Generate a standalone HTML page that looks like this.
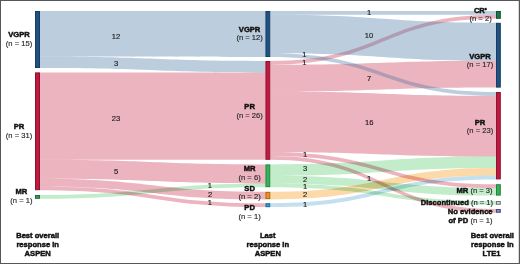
<!DOCTYPE html><html><head><meta charset="utf-8"><style>html,body{margin:0;padding:0;background:#fff}svg{display:block;will-change:transform}text{font-family:"Liberation Sans",sans-serif;font-size:7.6px;fill:#111;stroke:#111;stroke-width:0.45px}svg text{-webkit-font-smoothing:antialiased}.tx{will-change:transform}.b{font-weight:bold}.n{fill:#2b2b2b;stroke:#2b2b2b;stroke-width:0.16px}.v{fill:#1a1a1a;stroke:#1a1a1a;stroke-width:0.15px;text-anchor:middle}</style></head><body>
<svg width="520" height="264" viewBox="0 0 520 264">
<rect x="0" y="0" width="520" height="264" fill="#fff"/>
<g>
<path d="M270.3,203.2C383.15,203.2 383.15,175.6 496,175.6L496,179.4C383.15,179.4 383.15,207 270.3,207Z" fill="#c4dfee" style="mix-blend-mode:multiply"/>
<path d="M270.3,191.8C383.15,191.8 383.15,168 496,168L496,175.6C383.15,175.6 383.15,199.4 270.3,199.4Z" fill="#fcd9a8" style="mix-blend-mode:multiply"/>
<path d="M40,195C152.7,195 152.7,183.4 265.4,183.4L265.4,187.2C152.7,187.2 152.7,198.8 40,198.8Z" fill="#c2ecca" style="mix-blend-mode:multiply"/>
<path d="M270.3,164.4C383.15,164.4 383.15,156.6 496,156.6L496,168C383.15,168 383.15,175.8 270.3,175.8Z" fill="#c2ecca" style="mix-blend-mode:multiply"/>
<path d="M270.3,175.8C383.15,175.8 383.15,188 496,188L496,195.6C383.15,195.6 383.15,183.4 270.3,183.4Z" fill="#c2ecca" style="mix-blend-mode:multiply"/>
<path d="M270.3,183.4C383.15,183.4 383.15,201 496,201L496,204.8C383.15,204.8 383.15,187.2 270.3,187.2Z" fill="#c2ecca" style="mix-blend-mode:multiply"/>
<path d="M40,72.4C152.7,72.4 152.7,72.4 265.4,72.4L265.4,159.8C152.7,159.8 152.7,159.8 40,159.8Z" fill="#ecb4be" style="mix-blend-mode:multiply"/>
<path d="M40,159.8C152.7,159.8 152.7,164.4 265.4,164.4L265.4,183.4C152.7,183.4 152.7,178.8 40,178.8Z" fill="#ecb4be" style="mix-blend-mode:multiply"/>
<path d="M40,178.8C152.7,178.8 152.7,191.8 265.4,191.8L265.4,199.4C152.7,199.4 152.7,186.4 40,186.4Z" fill="#ecb4be" style="mix-blend-mode:multiply"/>
<path d="M40,186.4C152.7,186.4 152.7,203.2 265.4,203.2L265.4,207C152.7,207 152.7,190.2 40,190.2Z" fill="#ecb4be" style="mix-blend-mode:multiply"/>
<path d="M270.3,61C383.15,61 383.15,14.8 496,14.8L496,18.6C383.15,18.6 383.15,64.8 270.3,64.8Z" fill="#ecb4be" style="mix-blend-mode:multiply"/>
<path d="M270.3,64.8C383.15,64.8 383.15,60.8 496,60.8L496,87.4C383.15,87.4 383.15,91.4 270.3,91.4Z" fill="#ecb4be" style="mix-blend-mode:multiply"/>
<path d="M270.3,91.4C383.15,91.4 383.15,95.8 496,95.8L496,156.6C383.15,156.6 383.15,152.2 270.3,152.2Z" fill="#ecb4be" style="mix-blend-mode:multiply"/>
<path d="M270.3,152.2C383.15,152.2 383.15,184.2 496,184.2L496,188C383.15,188 383.15,156 270.3,156Z" fill="#ecb4be" style="mix-blend-mode:multiply"/>
<path d="M270.3,156C383.15,156 383.15,209 496,209L496,212.8C383.15,212.8 383.15,159.8 270.3,159.8Z" fill="#ecb4be" style="mix-blend-mode:multiply"/>
<path d="M40,11C152.7,11 152.7,11 265.4,11L265.4,57C152.7,57 152.7,56.6 40,56.6Z" fill="#4574a1" fill-opacity="0.36"/>
<path d="M40,56.6C152.7,56.6 152.7,61 265.4,61L265.4,72.4C152.7,72.4 152.7,68 40,68Z" fill="#4574a1" fill-opacity="0.36"/>
<path d="M270.3,11C383.15,11 383.15,11 496,11L496,14.8C383.15,14.8 383.15,14.8 270.3,14.8Z" fill="#4574a1" fill-opacity="0.36"/>
<path d="M270.3,14.8C383.15,14.8 383.15,22.8 496,22.8L496,60.8C383.15,60.8 383.15,53.2 270.3,53.2Z" fill="#4574a1" fill-opacity="0.36"/>
<path d="M270.3,53.2C383.15,53.2 383.15,92 496,92L496,95.8C383.15,95.8 383.15,57 270.3,57Z" fill="#4574a1" fill-opacity="0.36"/>
</g>
<g>
<rect x="35.5" y="11.5" width="4" height="56" fill="#1f5282" stroke="#163c60" stroke-width="1"/>
<rect x="35.5" y="72.9" width="4" height="116.8" fill="#c0183e" stroke="#8e1230" stroke-width="1"/>
<rect x="35.5" y="195.5" width="4" height="2.8" fill="#3a9a5c" stroke="#1f6a3a" stroke-width="1"/>
<rect x="265.9" y="11.5" width="3.9" height="45" fill="#1f5282" stroke="#163c60" stroke-width="1"/>
<rect x="265.9" y="61.5" width="3.9" height="97.8" fill="#c0183e" stroke="#8e1230" stroke-width="1"/>
<rect x="265.9" y="164.9" width="3.9" height="21.8" fill="#34b258" stroke="#23823e" stroke-width="1"/>
<rect x="265.9" y="192.3" width="3.9" height="6.4" fill="#f49018" stroke="#a86010" stroke-width="1"/>
<rect x="265.9" y="203.7" width="3.9" height="3" fill="#2e98d4" stroke="#1a6aa0" stroke-width="1"/>
<rect x="496.5" y="11.5" width="3.8" height="6.8" fill="#177a4c" stroke="#0e5034" stroke-width="1"/>
<rect x="496.5" y="23.3" width="3.8" height="63.8" fill="#1f5282" stroke="#163c60" stroke-width="1"/>
<rect x="496.5" y="92.5" width="3.8" height="86.4" fill="#c0183e" stroke="#8e1230" stroke-width="1"/>
<rect x="496.5" y="184.7" width="3.8" height="10.4" fill="#34b258" stroke="#23823e" stroke-width="1"/>
<rect x="496.5" y="201.5" width="3.8" height="2.8" fill="#d4dada" stroke="#6a7272" stroke-width="1"/>
<rect x="496.5" y="209.5" width="3.8" height="2.8" fill="#8a8acc" stroke="#4a4a8a" stroke-width="1"/>
</g>
<g>
<text x="19" y="37.4" text-anchor="middle" class="b">VGPR</text><text x="19" y="45.9" text-anchor="middle" class="n">(n = 15)</text>
<text x="19" y="129.2" text-anchor="middle" class="b">PR</text><text x="19" y="137.7" text-anchor="middle" class="n">(n = 31)</text>
<text x="21.4" y="194.4" text-anchor="middle" class="b">MR</text><text x="21.4" y="202.9" text-anchor="middle" class="n">(n = 1)</text>
<text x="249.6" y="31.8" text-anchor="middle" class="b">VGPR</text><text x="249.6" y="40.3" text-anchor="middle" class="n">(n = 12)</text>
<text x="249.6" y="109" text-anchor="middle" class="b">PR</text><text x="249.6" y="117.5" text-anchor="middle" class="n">(n = 26)</text>
<text x="249.6" y="171.2" text-anchor="middle" class="b">MR</text><text x="249.6" y="179.7" text-anchor="middle" class="n">(n = 6)</text>
<text x="249.6" y="190.6" text-anchor="middle" class="b">SD</text><text x="249.6" y="199.1" text-anchor="middle" class="n">(n = 2)</text>
<text x="249.6" y="210.3" text-anchor="middle" class="b">PD</text><text x="249.6" y="218.8" text-anchor="middle" class="n">(n = 1)</text>
<text x="480.3" y="12.8" text-anchor="middle" class="b">CR<tspan dy="-1.3" font-size="4.8">*</tspan></text>
<text x="480.6" y="21.4" text-anchor="middle" class="n">(n = 2)</text>
<text x="480" y="58.9" text-anchor="middle" class="b">VGPR</text><text x="480" y="67.4" text-anchor="middle" class="n">(n = 17)</text>
<text x="480" y="124.5" text-anchor="middle" class="b">PR</text><text x="480" y="133" text-anchor="middle" class="n">(n = 23)</text>
<text x="492.6" y="192.6" text-anchor="end"><tspan class="b">MR</tspan><tspan class="n"> (n = 3)</tspan></text>
<text x="493.1" y="204.8" text-anchor="end"><tspan class="b">Discontinued</tspan><tspan class="n"> (n = 1)</tspan></text>
<text x="492.6" y="214" text-anchor="end" class="b">No evidence</text>
<text x="492.6" y="222.9" text-anchor="end"><tspan class="b">of PD</tspan><tspan class="n"> (n = 1)</tspan></text>
</g>
<g>
<text x="116" y="39.2" class="v">12</text>
<text x="116.1" y="65.7" class="v">3</text>
<text x="116" y="120.9" class="v">23</text>
<text x="116.1" y="173.6" class="v">5</text>
<text x="209.9" y="187.8" class="v">1</text>
<text x="210.1" y="197" class="v">2</text>
<text x="209.9" y="205.2" class="v">1</text>
<text x="369" y="14.5" class="v">1</text>
<text x="369" y="38" class="v">10</text>
<text x="304.3" y="57.3" class="v">1</text>
<text x="304.3" y="64.8" class="v">1</text>
<text x="369" y="80.8" class="v">7</text>
<text x="369.3" y="125.2" class="v">16</text>
<text x="305" y="156.9" class="v">1</text>
<text x="369" y="180.9" class="v">1</text>
<text x="305" y="171.4" class="v">3</text>
<text x="305.2" y="181.5" class="v">2</text>
<text x="305" y="189.2" class="v">1</text>
<text x="305.2" y="196.9" class="v">2</text>
<text x="305" y="206.8" class="v">1</text>
</g>
<text x="37.7" y="237.6" text-anchor="middle" class="b">Best overall</text><text x="37.7" y="246.6" text-anchor="middle" class="b">response in</text><text x="37.7" y="255.6" text-anchor="middle" class="b">ASPEN</text>
<text x="267.8" y="237.6" text-anchor="middle" class="b">Last</text><text x="267.8" y="246.6" text-anchor="middle" class="b">response in</text><text x="267.8" y="255.6" text-anchor="middle" class="b">ASPEN</text>
<text x="492.4" y="237.6" text-anchor="middle" class="b">Best overall</text><text x="492.4" y="246.6" text-anchor="middle" class="b">response in</text><text x="492.4" y="255.6" text-anchor="middle" class="b"></text>
<text x="491.6" y="255.6" text-anchor="middle" class="b">LTE1</text>
<rect x="0.5" y="0.5" width="519" height="263" fill="none" stroke="#54575b" stroke-width="1"/>
<rect x="518.5" y="0" width="1" height="264" fill="#54575b" fill-opacity="0.45"/>
</svg></body></html>
